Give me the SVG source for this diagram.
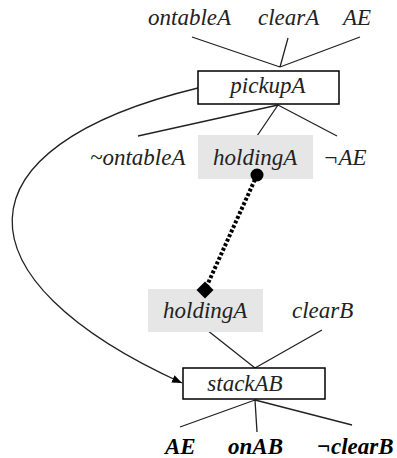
<svg xmlns="http://www.w3.org/2000/svg" width="397" height="458" viewBox="0 0 397 458">
<defs>
<style>
.lbl{font-family:"Liberation Serif","DejaVu Serif",serif;font-style:italic;font-size:23px;fill:#222}
.bold{font-weight:bold;fill:#000}
.box{fill:#fff;stroke:#000;stroke-width:1.5}
.hl{fill:#e6e6e6;stroke:none}
.ln{stroke:#222;stroke-width:1.3;fill:none}
</style>
<marker id="arr" viewBox="0 0 10 10" refX="10" refY="5" markerWidth="10" markerHeight="10" markerUnits="userSpaceOnUse" orient="auto">
<path d="M0,1 L10,5 L0,9 Z" fill="#000"/>
</marker>
</defs>
<rect width="397" height="458" fill="#fff"/>
<g id="connectors">
<path class="ln" d="M192,37 L280,67 M288,38 L280,67 M360,37 L280,67"/>
<path class="ln" d="M278,105 L138,136 M278,105 L257,136 M278,105 L337,136"/>
<path class="ln" d="M207,330 L255,368 M322,330 L255,368"/>
<path class="ln" d="M255,400 L180,427 M255,400 L257,432 M255,400 L352,425"/>
<path class="ln" d="M198,88 C-47,147 -47,279 182,383" marker-end="url(#arr)"/>
<line x1="257" y1="175" x2="205" y2="290" stroke="#000" stroke-width="4" stroke-dasharray="3 2"/>
</g>
<g id="top-labels">
<text class="lbl" x="148" y="25">ontableA</text>
<text class="lbl" x="258" y="25">clearA</text>
<text class="lbl" x="343" y="25">AE</text>
</g>
<g id="pickupA">
<rect class="box" x="198" y="71" width="141" height="33"/>
<text class="lbl" x="268" y="93" text-anchor="middle">pickupA</text>
</g>
<g id="effects-pickup">
<text class="lbl" x="90" y="165">~ontableA</text>
<rect class="hl" x="198" y="135" width="115" height="44"/>
<text class="lbl" x="213" y="165">holdingA</text>
<text class="lbl" x="323" y="165">¬AE</text>
</g>
<g id="precond-stack">
<rect class="hl" x="148" y="289" width="115" height="43"/>
<text class="lbl" x="163" y="318">holdingA</text>
<text class="lbl" x="292" y="318">clearB</text>
</g>
<g id="link-ends">
<circle cx="257" cy="175" r="6.5" fill="#000"/>
<rect x="199" y="284" width="12" height="12" fill="#000" transform="rotate(45 205 290)"/>
</g>
<g id="stackAB">
<rect class="box" x="183" y="368" width="142" height="31"/>
<text class="lbl" x="245" y="391" text-anchor="middle">stackAB</text>
</g>
<g id="bottom-labels">
<text class="lbl bold" x="165" y="454">AE</text>
<text class="lbl bold" x="228" y="454">onAB</text>
<text class="lbl bold" x="317" y="454">¬clearB</text>
</g>
</svg>
